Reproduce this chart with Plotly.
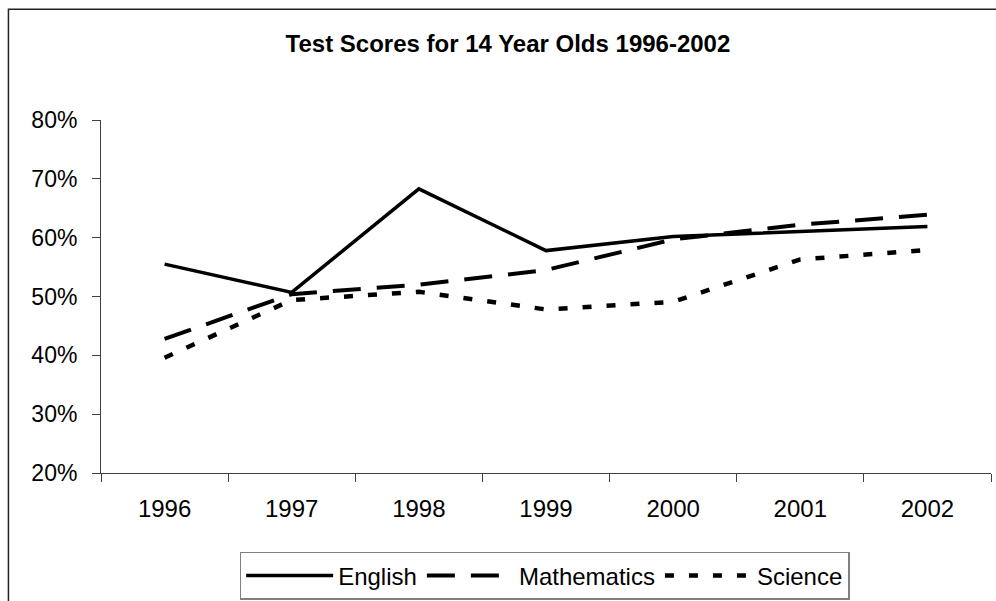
import plotly.graph_objects as go

# Test scores (share of pupils reaching the expected level), 1996-2002
years = ["1996", "1997", "1998", "1999", "2000", "2001", "2002"]
english = [0.555, 0.507, 0.683, 0.578, 0.602, 0.611, 0.619]
mathematics = [0.428, 0.504, 0.520, 0.545, 0.597, 0.622, 0.639]
science = [0.396, 0.494, 0.508, 0.478, 0.491, 0.563, 0.579]

y_ticks = [0.2, 0.3, 0.4, 0.5, 0.6, 0.7, 0.8]

FONT = "Liberation Sans, Arial, Helvetica, sans-serif"
AXIS = "#404040"

fig = go.Figure()
fig.add_trace(go.Scatter(x=years, y=english, name="English", mode="lines",
                         line=dict(color="black", width=3.5)))
fig.add_trace(go.Scatter(x=years, y=mathematics, name="Mathematics", mode="lines",
                         line=dict(color="black", width=4, dash="28px,16px")))
fig.add_trace(go.Scatter(x=years, y=science, name="Science", mode="lines",
                         line=dict(color="black", width=4.5, dash="9px,15px")))

# chart-area frame
fig.add_shape(type="rect", xref="paper", yref="paper",
              x0=-0.104, x1=1.04, y0=-0.40, y1=1.3137,
              line=dict(color="#222222", width=1.5), fillcolor="rgba(0,0,0,0)",
              layer="below")

fig.update_layout(
    width=996, height=601,
    margin=dict(l=101, r=5, t=120, b=128, autoexpand=False),
    paper_bgcolor="white", plot_bgcolor="white",
    font=dict(family=FONT, color="black", size=23),
    title=dict(text="<b>Test Scores for 14 Year Olds 1996-2002</b>",
               font=dict(family=FONT, size=24, color="black"),
               x=0.51, xref="container", xanchor="center",
               y=0.928, yref="container", yanchor="middle"),
    showlegend=True,
    legend=dict(orientation="h", x=0.4985, xanchor="center",
                y=0.0416, yref="container", yanchor="middle",
                bordercolor="#808080", borderwidth=1.5, bgcolor="white",
                font=dict(family=FONT, size=24, color="black"),
                itemwidth=87, traceorder="normal"),
    xaxis=dict(type="category", range=[-0.5, 6.5], showgrid=False,
               showline=True, linecolor=AXIS, linewidth=1,
               ticks="outside", ticklen=8, tickcolor=AXIS, tickwidth=1,
               tickson="boundaries", ticklabelstandoff=14, automargin=False,
               tickfont=dict(family=FONT, size=24, color="black"),
               zeroline=False, fixedrange=True),
    yaxis=dict(range=[0.2, 0.8], tickvals=y_ticks, tickformat=".0%",
               showgrid=False, zeroline=False,
               showline=True, linecolor=AXIS, linewidth=1,
               ticks="outside", ticklen=8, tickcolor=AXIS, tickwidth=1,
               ticklabelstandoff=10, automargin=False,
               tickfont=dict(family=FONT, size=23, color="black"),
               fixedrange=True),
)

fig.write_html("out.html")
